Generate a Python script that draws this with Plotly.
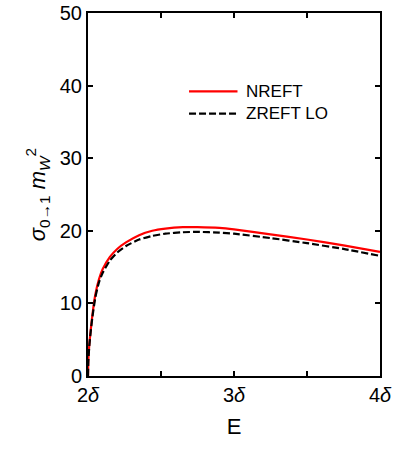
import plotly.graph_objects as go

# energy in units of delta, cross sections in units of 1/m_W^2
energy = [2.000, 2.002, 2.005, 2.010, 2.018, 2.030, 2.050, 2.075, 2.100, 2.150,
          2.200, 2.260, 2.350, 2.440, 2.530, 2.650, 2.750, 2.900, 3.000, 3.250,
          3.500, 3.750, 4.000]
sigma_nreft = [0.0, 2.0, 3.2, 4.6, 6.2, 8.4, 11.2, 13.3, 14.7, 16.4,
               17.5, 18.4, 19.4, 20.0, 20.3, 20.5, 20.5, 20.4, 20.2, 19.5,
               18.8, 18.0, 17.1]
sigma_zreft = [0.0, 1.9, 3.0, 4.4, 6.0, 8.1, 10.8, 12.9, 14.2, 15.9,
               17.0, 17.9, 18.8, 19.3, 19.6, 19.8, 19.85, 19.75, 19.6, 19.0,
               18.3, 17.5, 16.55]

x_tickvals = [2, 2.5, 3, 3.5, 4]
x_ticktext = ["2<i>δ</i>", "", "3<i>δ</i>", "", "4<i>δ</i>"]

series = [("NREFT", sigma_nreft, "#ff0000", "solid"),
          ("ZREFT LO", sigma_zreft, "black", "7px,3px")]

fig = go.Figure()
for name, vals, color, dash in series:
    fig.add_trace(go.Scatter(x=energy, y=vals, name=name, mode="lines", showlegend=False,
                             line=dict(color=color, width=2.2, dash=dash,
                                       shape="spline", smoothing=0.5)))

# hand-drawn legend (longer line samples than plotly's own legend)
for i, (name, vals, color, dash) in enumerate(series):
    ly = 0.784 - i * 0.061
    fig.add_shape(type="line", xref="paper", yref="paper", x0=0.346, x1=0.512, y0=ly, y1=ly,
                  line=dict(color=color, width=2.2, dash=dash))
    fig.add_annotation(xref="paper", yref="paper", x=0.534, y=ly, text=name, showarrow=False,
                       xanchor="left", yanchor="middle", font=dict(size=17, color="black"))

axis_common = dict(showline=True, linecolor="black", linewidth=2, mirror="ticks",
                   ticks="inside", ticklen=5, tickwidth=2, tickcolor="black",
                   showgrid=False, zeroline=False, automargin=False,
                   tickfont=dict(size=20, color="black"))

fig.update_xaxes(range=[2, 4], tickvals=x_tickvals, ticktext=x_ticktext,
                 title=dict(text="E", font=dict(size=22, color="black"), standoff=14),
                 **axis_common)
fig.update_yaxes(range=[0, 50], dtick=10,
                 title=dict(text="<i>σ</i><sub>0→1</sub> <i>m</i><sub><i>W</i></sub><sup>2</sup>",
                            font=dict(size=22, color="black"), standoff=8),
                 **axis_common)

fig.update_layout(
    width=399, height=451,
    margin=dict(l=88, r=19, t=13, b=75),
    paper_bgcolor="white", plot_bgcolor="white",
    font=dict(family="Liberation Sans, Arial, sans-serif", color="black"),
)

# drop the browser's default 8px body margin so the figure sits at the page corner
fig.write_html("out.html", config={"displayModeBar": False},
               post_script="document.body.style.margin='0';")
